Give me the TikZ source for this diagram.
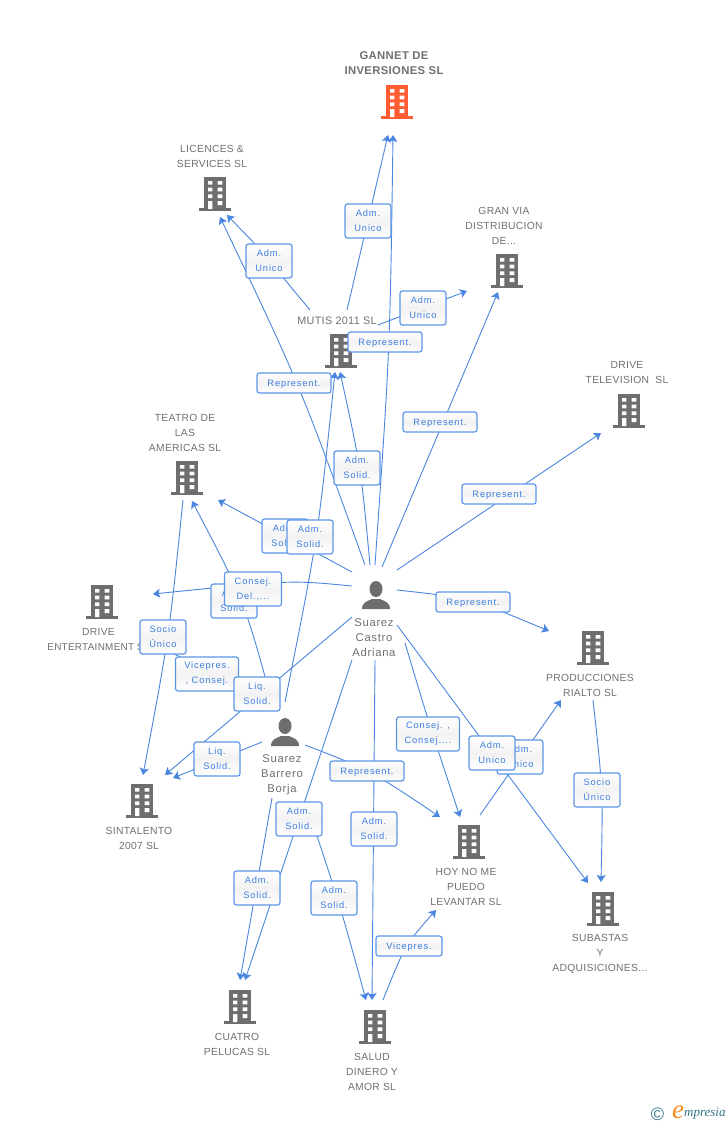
\documentclass[tikz,border=0pt]{standalone}
\usepackage{fontspec}
\setmainfont{Liberation Sans}
\newfontfamily\lblfont[LetterSpace=9]{Liberation Sans}
\newfontfamily\namefont[LetterSpace=3]{Liberation Sans}
\newfontfamily\persfont[LetterSpace=6]{Liberation Sans}
\newfontfamily\logofont{Liberation Serif}
\usetikzlibrary{arrows.meta}
\definecolor{linkblue}{HTML}{4A86E0}
\definecolor{boxblue}{HTML}{5C96E8}
\definecolor{txtblue}{HTML}{3F7FE0}
\definecolor{bgrey}{HTML}{6E6E70}
\definecolor{tgrey}{HTML}{707070}
\definecolor{hot}{HTML}{FF5C33}
\definecolor{logoteal}{HTML}{2F7488}
\definecolor{logoor}{HTML}{F58A1F}
\tikzset{
  x=1pt,y=-1pt,
  conn/.style={draw=linkblue,line width=0.9pt},
  arr/.style={conn,-{Stealth[length=7pt,width=9pt,inset=1.5pt]}},
  lab/.style={draw=boxblue,line width=1.2pt,rounded corners=2.5pt,top color=white,bottom color=white,middle color=white!95!black,
    text=txtblue,font=\fontsize{9.3}{15}\selectfont\lblfont,align=center,inner sep=0pt,minimum height=34pt,minimum width=46pt,
    execute at begin node={\rule{0pt}{9pt}}},
  labw/.style={lab,minimum width=#1,minimum height=20pt},
  labl/.style={lab,minimum width=#1},
  nm/.style={text=tgrey,font=\fontsize{10.3}{15}\selectfont\namefont,align=center,inner sep=0pt,yshift=-1pt},
  nmb/.style={nm,font=\fontsize{11.3}{15}\selectfont\bfseries\namefont},
  pers/.style={text=tgrey,font=\fontsize{11.3}{15}\selectfont\persfont,align=center,inner sep=0pt,yshift=-0.5pt},
  anchorpt/.style={inner sep=0pt,minimum size=1pt},
}
\newcommand\bldg[3]{%
  \node[anchorpt] (#1) at (#2) {};
  \begin{scope}[shift={(#1.center)}]
    \fill[#3] (-11,-17) rectangle (11,15);
    \fill[#3] (-16,14) rectangle (16,16.5);
    \fill[white] (-7,-13) rectangle (-2.7,-9.3) (2.7,-13) rectangle (7.3,-9.3)
      (-7,-6.3) rectangle (-2.7,-2.7) (2.7,-6.3) rectangle (7.3,-2.7)
      (-7,0.3) rectangle (-2.7,4) (2.7,0.3) rectangle (7.3,4)
      (-7,7) rectangle (-2.7,15) (2.7,7) rectangle (7.3,11);
  \end{scope}}
\newcommand\person[2]{%
  \node[anchorpt] (#1) at (#2) {};
  \begin{scope}[shift={(#1.center)}]
    \fill[bgrey] (0,-6) ellipse (6.5 and 8);
    \fill[bgrey] (-14,14) .. controls (-14,7) and (-8,6) .. (-4,4) -- (4,4) .. controls (8,6) and (14,7) .. (14,14) -- cycle;
  \end{scope}}
\newcommand\off[3]{([shift={(#2,#3)}]#1.center)}
\begin{document}
\begin{tikzpicture}
\useasboundingbox[fill=white] (0,0) rectangle (728,1125);
% icons
\bldg{gannet}{397,102}{hot}
\bldg{licences}{215,194}{bgrey}
\bldg{granvia}{507,271}{bgrey}
\bldg{drivetv}{629,411}{bgrey}
\bldg{mutis}{341,351}{bgrey}
\bldg{teatro}{187,478}{bgrey}
\bldg{driveent}{102,602}{bgrey}
\bldg{prod}{593,648}{bgrey}
\bldg{sinta}{142,801}{bgrey}
\bldg{hoy}{469,842}{bgrey}
\bldg{subastas}{603,909}{bgrey}
\bldg{cuatro}{240,1007}{bgrey}
\bldg{salud}{375,1027}{bgrey}
\person{adriana}{376,595}
\person{borja}{285,732}
% names
\node[nmb] (ngannet) at (394,62) {GANNET DE\\INVERSIONES SL};
\node[nm] (nlic) at (212,155) {LICENCES \&\\SERVICES SL};
\node[nm] (ngran) at (504,225) {GRAN VIA\\DISTRIBUCION\\DE...};
\node[nm] (ntv) at (627,372) {DRIVE\\TELEVISION\ \ SL};
\node[nm,font=\fontsize{10.8}{15}\selectfont\namefont] (nmutis) at (337,319.5) {MUTIS 2011 SL};
\node[nm] (nteatro) at (185,432) {TEATRO DE\\LAS\\AMERICAS SL};
\node[nm] (nent) at (98.5,638) {DRIVE\\{\fontsize{9.9}{15}\selectfont ENTERTAINMENT SL}};
\node[nm] (nprod) at (590,684) {PRODUCCIONES\\RIALTO SL};
\node[nm] (nsinta) at (139,837) {SINTALENTO\\2007 SL};
\node[nm] (nhoy) at (466,886) {HOY NO ME\\PUEDO\\LEVANTAR SL};
\node[nm] (nsub) at (600,953) {SUBASTAS\\Y\\ADQUISICIONES...};
\node[nm] (ncua) at (237,1043) {CUATRO\\PELUCAS SL};
\node[nm] (nsal) at (372,1071) {SALUD\\DINERO Y\\AMOR SL};
\node[pers] (nadr) at (374,637) {Suarez\\Castro\\Adriana};
\node[pers] (nbor) at (282,774) {Suarez\\Barrero\\Borja};
% connectors
\draw[arr] \off{mutis}{6}{-41} -- \off{gannet}{-9}{33};
\draw[arr] \off{adriana}{-1}{-30} .. controls (390,350) .. \off{gannet}{-4}{33};
\draw[arr] \off{mutis}{-31}{-41} -- (256,245) -- \off{licences}{12}{21};
\draw[arr] \off{adriana}{-11}{-30} .. controls (300,385) .. \off{licences}{5}{23};
\draw[arr] \off{mutis}{37}{-26} -- \off{granvia}{-40}{20};
\draw[arr] \off{adriana}{6}{-28} -- \off{granvia}{-9}{21};
\draw[arr] \off{adriana}{21}{-25} -- \off{drivetv}{-28}{22};
\draw[arr] \off{adriana}{-6}{-30} .. controls (361,468) .. \off{mutis}{-1}{21};
\draw[arr] \off{borja}{0}{-30} .. controls (318,537) .. \off{mutis}{-6}{21};
\draw[arr] \off{adriana}{-24}{-23} -- \off{teatro}{31}{22};
\draw[arr] \off{adriana}{-24}{-9} .. controls (290,580) .. \off{driveent}{51}{-8};
\draw[arr] \off{borja}{-13}{-30} .. controls (244,600) .. \off{teatro}{5}{23};
\draw[arr] \off{adriana}{-24}{22} -- \off{sinta}{23}{-26};
\draw[arr] \off{borja}{-23}{10} -- \off{sinta}{31}{-23};
\draw[arr] \off{teatro}{-4}{22} .. controls (169,637) .. \off{sinta}{1}{-26};
\draw[conn] \off{driveent}{68}{50} -- \off{borja}{-30}{-39};
\draw[arr] \off{adriana}{21}{-5} .. controls (470,598) .. \off{prod}{-44}{-17};
\draw[arr] \off{adriana}{21}{30} -- \off{subastas}{-15}{-26};
\draw[arr] \off{hoy}{11}{-27} -- \off{prod}{-32}{52};
\draw[arr] \off{adriana}{29}{48} .. controls (428,720) .. \off{hoy}{-9}{-25};
\draw[arr] \off{borja}{20}{13} .. controls (370,770) .. \off{hoy}{-29}{-25};
\draw[arr] \off{adriana}{-1}{65} -- \off{salud}{-3}{-27};
\draw[arr] \off{adriana}{-24}{65} -- \off{cuatro}{5}{-27};
\draw[arr] \off{borja}{-13}{66} -- \off{cuatro}{0}{-27};
\draw[arr] \off{borja}{25}{83} .. controls (340,905) .. \off{salud}{-9}{-27};
\draw[arr] \off{salud}{8}{-27} .. controls (405,945) .. \off{hoy}{-33}{68};
\draw[arr] \off{prod}{0}{52} .. controls (603,790) .. \off{subastas}{-2}{-27};
% connector labels
\node[lab] (l1) at (368,221) {Adm.\\Unico};
\node[lab] (l2) at (269,261) {Adm.\\Unico};
\node[lab] (l3) at (423,308) {Adm.\\Unico};
\node[labw=74pt] (l4) at (385,342) {Represent.};
\node[labw=74pt] (l5) at (294,383) {Represent.};
\node[labw=74pt] (l6) at (440,422) {Represent.};
\node[labw=74pt] (l7) at (499,494) {Represent.};
\node[lab] (l8) at (357,468) {Adm.\\Solid.};
\node[lab] (l9) at (285,536) {Adm.\\Solid.};
\node[lab] (l10) at (310,537) {Adm.\\Solid.};
\node[lab] (l11) at (234,601) {Adm.\\Solid.};
\node[labl=57pt] (l12) at (253,589) {Consej.\\Del.,...};
\node[lab] (l13) at (163,637) {Socio\\Único};
\node[labl=63pt] (l14) at (207,674) {Vicepres.\\, Consej.};
\node[lab] (l15) at (257,694) {Liq.\\Solid.};
\node[lab] (l16) at (217,759) {Liq.\\Solid.};
\node[labw=74pt] (l17) at (473,602) {Represent.};
\node[labw=74pt] (l18) at (367,771) {Represent.};
\node[labl=63pt] (l19) at (428,734) {Consej. ,\\Consej....};
\node[lab] (l20) at (520,757) {Adm.\\Unico};
\node[lab] (l21) at (492,753) {Adm.\\Unico};
\node[lab] (l22) at (597,790) {Socio\\Único};
\node[lab] (l23) at (299,819) {Adm.\\Solid.};
\node[lab] (l24) at (374,829) {Adm.\\Solid.};
\node[lab] (l25) at (257,888) {Adm.\\Solid.};
\node[lab] (l26) at (334,898) {Adm.\\Solid.};
\node[labw=66pt] (l27) at (409,946) {Vicepres.};
% logo
\node[inner sep=0pt,text=logoteal,font=\fontsize{18}{18}\selectfont] (copy) at (657.5,1114) {©};
\node[inner sep=0pt,text=logoor,font=\fontsize{27}{27}\selectfont\itshape\logofont] (elogo) at (678,1112) {e};
\node[inner sep=0pt,anchor=west,text=logoteal,font=\fontsize{13}{13}\selectfont\itshape\logofont] (mlogo) at (684,1113.5) {mpresia};
\end{tikzpicture}
\end{document}
